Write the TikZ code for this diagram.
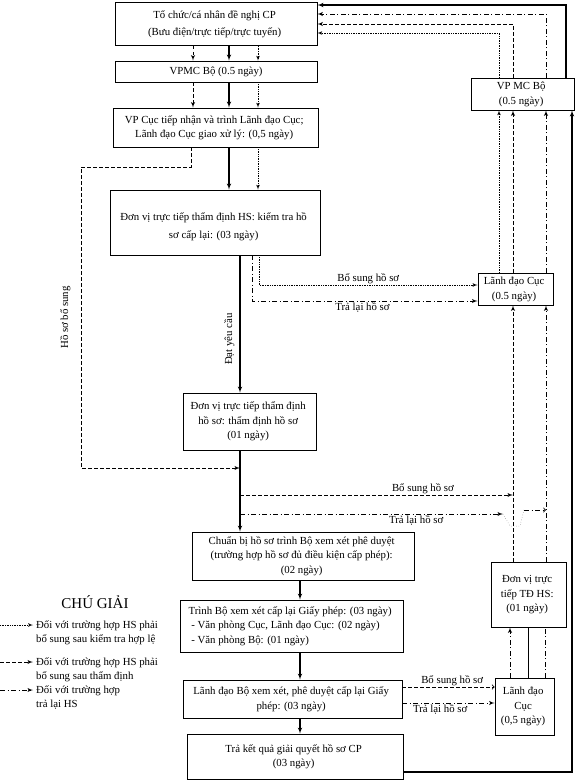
\documentclass[tikz,border=0pt]{standalone}
\usepackage{fontspec}
\setmainfont{Liberation Serif}
\usetikzlibrary{arrows,positioning}
\renewcommand{\arraystretch}{1.12}
\tikzset{
	chinh/.style={draw, line width=1.1pt, -latex'},
	kiemtra/.style={draw, line width=0.7pt, dash pattern=on 0.8pt off 0.9pt, -latex'},
	thamdinh/.style={draw, line width=0.9pt, dash pattern=on 3.5pt off 2.5pt, -latex'},
	tralai/.style={draw, line width=0.9pt, dash pattern=on 5pt off 2.5pt on 1pt off 2.5pt, -latex'},
	lbl/.style={font={\fontsize{10.8}{13}\selectfont}, inner sep=1pt},
	u/.style={anchor=south},
	d/.style={anchor=north}
}
\tikzstyle{base} =
	[
		draw,
		line width=0.6pt,
		align=center,
		inner sep=0pt,
		font={\fontsize{10.8}{13}\selectfont}
	]

\begin{document}
\begin{tikzpicture}[x=1pt, y=-1pt]
        \useasboundingbox (0,0) rectangle (576,782);
        % main column
        \node[base, minimum width=202, minimum height=43] (b_0) at (216,24) {
            \begin{tabular}{c}
                Tổ chức/cá nhân đề nghị CP \\[2pt]
                (Bưu điện/trực tiếp/trực tuyến)
            \end{tabular}
        };
        \node[base, minimum width=202, minimum height=21] (b_1) at (216,71.5) {VPMC Bộ (0.5 ngày)};
        \node[base, minimum width=205, minimum height=39] (b_2) at (215.5,127.5) {
            \begin{tabular}{c}
                VP Cục tiếp nhận và trình Lãnh đạo Cục; \\
                Lãnh đạo Cục giao xử lý: (0,5 ngày)
            \end{tabular}
        };
        \node[base, minimum width=210, minimum height=65] (b_3) at (215,222.5) {
            \begin{tabular}{c}
                \rule{0pt}{18pt}Đơn vị trực tiếp thẩm định HS: kiểm tra hồ \\[3pt]
                sơ cấp lại: (03 ngày)
            \end{tabular}
        };
        \node[base, minimum width=133, minimum height=57] (b_4) at (249.5,421.5) {
            \begin{tabular}{c}
                Đơn vị trực tiếp thẩm định \\
                hồ sơ: thẩm định hồ sơ \\
                (01 ngày)
            \end{tabular}
        };
        \node[base, minimum width=222, minimum height=48] (b_5) at (303,556) {
            \begin{tabular}{c}
                Chuẩn bị hồ sơ trình Bộ xem xét phê duyệt \\
                (trường hợp hồ sơ đủ điều kiện cấp phép): \\
                (02 ngày)
            \end{tabular}
        };
        \node[base, minimum width=223, minimum height=52] (b_6) at (291.5,626) {
            \begin{tabular}{@{}l@{}}
                Trình Bộ xem xét cấp lại Giấy phép: (03 ngày) \\
                \ - Văn phòng Cục, Lãnh đạo Cục: (02 ngày) \\
                \ - Văn phòng Bộ: (01 ngày)
            \end{tabular}
        };
        \node[base, minimum width=219, minimum height=38] (b_7) at (292.5,699) {
            \begin{tabular}{c}
                Lãnh đạo Bộ xem xét, phê duyệt cấp lại Giấy \\
                phép: (03 ngày)
            \end{tabular}
        };
        \node[base, minimum width=216, minimum height=45] (b_8) at (295,756.5) {
            \begin{tabular}{c}
                Trả kết quả giải quyết hồ sơ CP \\
                (03 ngày)
            \end{tabular}
        };
        % right column
        \node[base, minimum width=103, minimum height=32] (r_0) at (522.5,94) {
            \begin{tabular}{c}
                VP MC Bộ \\
                (0.5 ngày)
            \end{tabular}
        };
        \node[base, minimum width=71, minimum height=32] (r_1) at (515.5,289) {
            \begin{tabular}{c}
                Lãnh đạo Cục \\
                (0.5 ngày)
            \end{tabular}
        };
        \node[base, minimum width=75, minimum height=65] (r_3) at (528.5,594.5) {
            \begin{tabular}{c}
                Đơn vị trực \\
                tiếp TĐ HS: \\
                (01 ngày)
            \end{tabular}
        };
        \node[base, minimum width=59, minimum height=57] (r_2) at (524.5,706.5) {
            \begin{tabular}{c}
                Lãnh đạo \\
                Cục \\
                (0,5 ngày)
            \end{tabular}
        };
        % columns and rows
        \coordinate (cD) at (193,0);
        \coordinate (cS) at (229,0);
        \coordinate (cK) at (258,0);
        \coordinate (cL) at (191,0);
        \coordinate (cF) at (81,0);
        \coordinate (cM) at (240,0);
        \coordinate (cT) at (252,0);
        \coordinate (cK2) at (259,0);
        \coordinate (cB) at (300,0);
        \coordinate (rK) at (499,0);
        \coordinate (rD) at (513,0);
        \coordinate (rT) at (546,0);
        \coordinate (rS) at (566,0);
        \coordinate (rS2) at (572,0);
        \coordinate (rA) at (510,0);
        \coordinate (rM) at (528,0);
        \coordinate (rT3) at (545,0);
        \coordinate (yS) at (0,5);
        \coordinate (yT) at (0,14);
        \coordinate (yD) at (0,24);
        \coordinate (yK) at (0,33);
        \coordinate (y167) at (0,167);
        \coordinate (y285) at (0,285);
        \coordinate (y301) at (0,301);
        \coordinate (y468) at (0,468);
        \coordinate (y495) at (0,495);
        \coordinate (y514) at (0,514);
        \coordinate (y510) at (0,510);
        \coordinate (y687) at (0,687);
        \coordinate (y703) at (0,703);
        \coordinate (y772) at (0,772);
        \coordinate (jmp_a) at (503,514);
        \coordinate (jmp_b) at (524,510);
        % down the main column
        \foreach \a/\b in {b_0/b_1, b_1/b_2} {
            \path[thamdinh] (\a.south -| cD) -- (\b.north -| cD);
            \path[chinh] (\a.south -| cS) -- (\b.north -| cS);
            \path[kiemtra] (\a.south -| cK) -- (\b.north -| cK);
        }
        \path[chinh] (b_2.south -| cS) -- (b_3.north -| cS);
        \path[kiemtra] (b_2.south -| cK) -- (b_3.north -| cK);
        \path[chinh] (b_3.south -| cM) -- node[lbl, rotate=90, u, pos=0.61, yshift=4pt] {Đạt yêu cầu} (b_4.north -| cM);
        \path[chinh] (b_4.south -| cM) -- (b_5.north -| cM);
        \foreach \a/\b in {b_5/b_6, b_6/b_7, b_7/b_8}
            \path[chinh] (\a.south -| cB) -- (\b.north -| cB);
        % returns from the first check
        \path[thamdinh] (b_2.south -| cL) |- (cF |- y167) |- node[lbl, rotate=90, u, pos=0.25, yshift=9pt] {Hồ sơ bổ sung} (cM |- y468);
        \path[kiemtra] (b_3.south -| cK2) |- node[lbl, u, pos=0.75] {Bổ sung hồ sơ} (r_1.west |- y285);
        \path[tralai] (b_3.south -| cT) |- node[lbl, d, pos=0.745] {Trả lại hồ sơ} (r_1.west |- y301);
        % returns after appraisal
        \path[thamdinh] (cM |- y495) -- node[lbl, u, pos=0.67] {Bổ sung hồ sơ} (rD |- y495);
        \path[tralai] (cM |- y514) -- node[lbl, d, pos=0.67] {Trả lại hồ sơ} (jmp_a);
        \draw[gray, line width=0.5pt, dotted] (jmp_a) -- ++(7,12) -- ++(10,0) -- (jmp_b);
        \path[tralai, -to] (jmp_b) -- (rT |- y510);
        % bottom right
        \path[thamdinh, -to] (b_7.east |- y687) -- node[lbl, u, pos=0.54] {Bổ sung hồ sơ} (r_2.west |- y687);
        \path[tralai] (b_7.east |- y703) -- node[lbl, d, pos=0.41] {Trả lại hồ sơ} (r_2.west |- y703);
        \path[tralai] (r_2.north -| rA) -- (r_3.south -| rA);
        \draw[line width=0.4pt] (r_2.north -| rM) -- (r_3.south -| rM);
        \path[tralai, -] (r_2.north -| rT3) -- (r_3.south -| rT3);
        \path[thamdinh] (r_3.north -| rD) -- (r_1.south -| rD);
        \path[tralai] (r_3.north -| rT) -- (r_1.south -| rT);
        % up to VP MC Bo
        \path[kiemtra] (r_1.north -| rK) -- (r_0.south -| rK);
        \path[thamdinh] (r_1.north -| rD) -- (r_0.south -| rD);
        \path[tralai] (r_1.north -| rT) -- (r_0.south -| rT);
        \path[chinh] (b_8.east |- y772) -| (r_0.south -| rS2);
        % back to the applicant
        \path[chinh] (r_0.north -| rS) |- (b_0.east |- yS);
        \path[tralai] (r_0.north -| rT) |- (b_0.east |- yT);
        \path[thamdinh] (r_0.north -| rD) |- (b_0.east |- yD);
        \path[kiemtra] (r_0.north -| rK) |- (b_0.east |- yK);
        % legend
        \node[font={\fontsize{15}{18}\selectfont}] (lg) at (95,602) {CHÚ GIẢI};
        \node[lbl, anchor=west, inner sep=0pt] (l_1) at (36,632.5) {
            \begin{tabular}{@{}l@{}}
                Đối với trường hợp HS phải \\
                bổ sung sau kiểm tra hợp lệ
            \end{tabular}
        };
        \node[lbl, anchor=west, inner sep=0pt] (l_2) at (36,669.5) {
            \begin{tabular}{@{}l@{}}
                Đối với trường hợp HS phải \\
                bổ sung sau thẩm định
            \end{tabular}
        };
        \node[lbl, anchor=west, inner sep=0pt] (l_3) at (36,697.5) {
            \begin{tabular}{@{}l@{}}
                Đối với trường hợp \\
                trả lại HS
            \end{tabular}
        };
        \coordinate (g_1) at (0,625);
        \coordinate (g_2) at (0,662);
        \coordinate (g_3) at (0,690);
        \path[kiemtra] (g_1) -- ([xshift=-3pt]g_1 -| l_1.west);
        \path[thamdinh] (g_2) -- ([xshift=-3pt]g_2 -| l_2.west);
        \path[tralai] (g_3) -- ([xshift=-3pt]g_3 -| l_3.west);
\end{tikzpicture}
\end{document}
